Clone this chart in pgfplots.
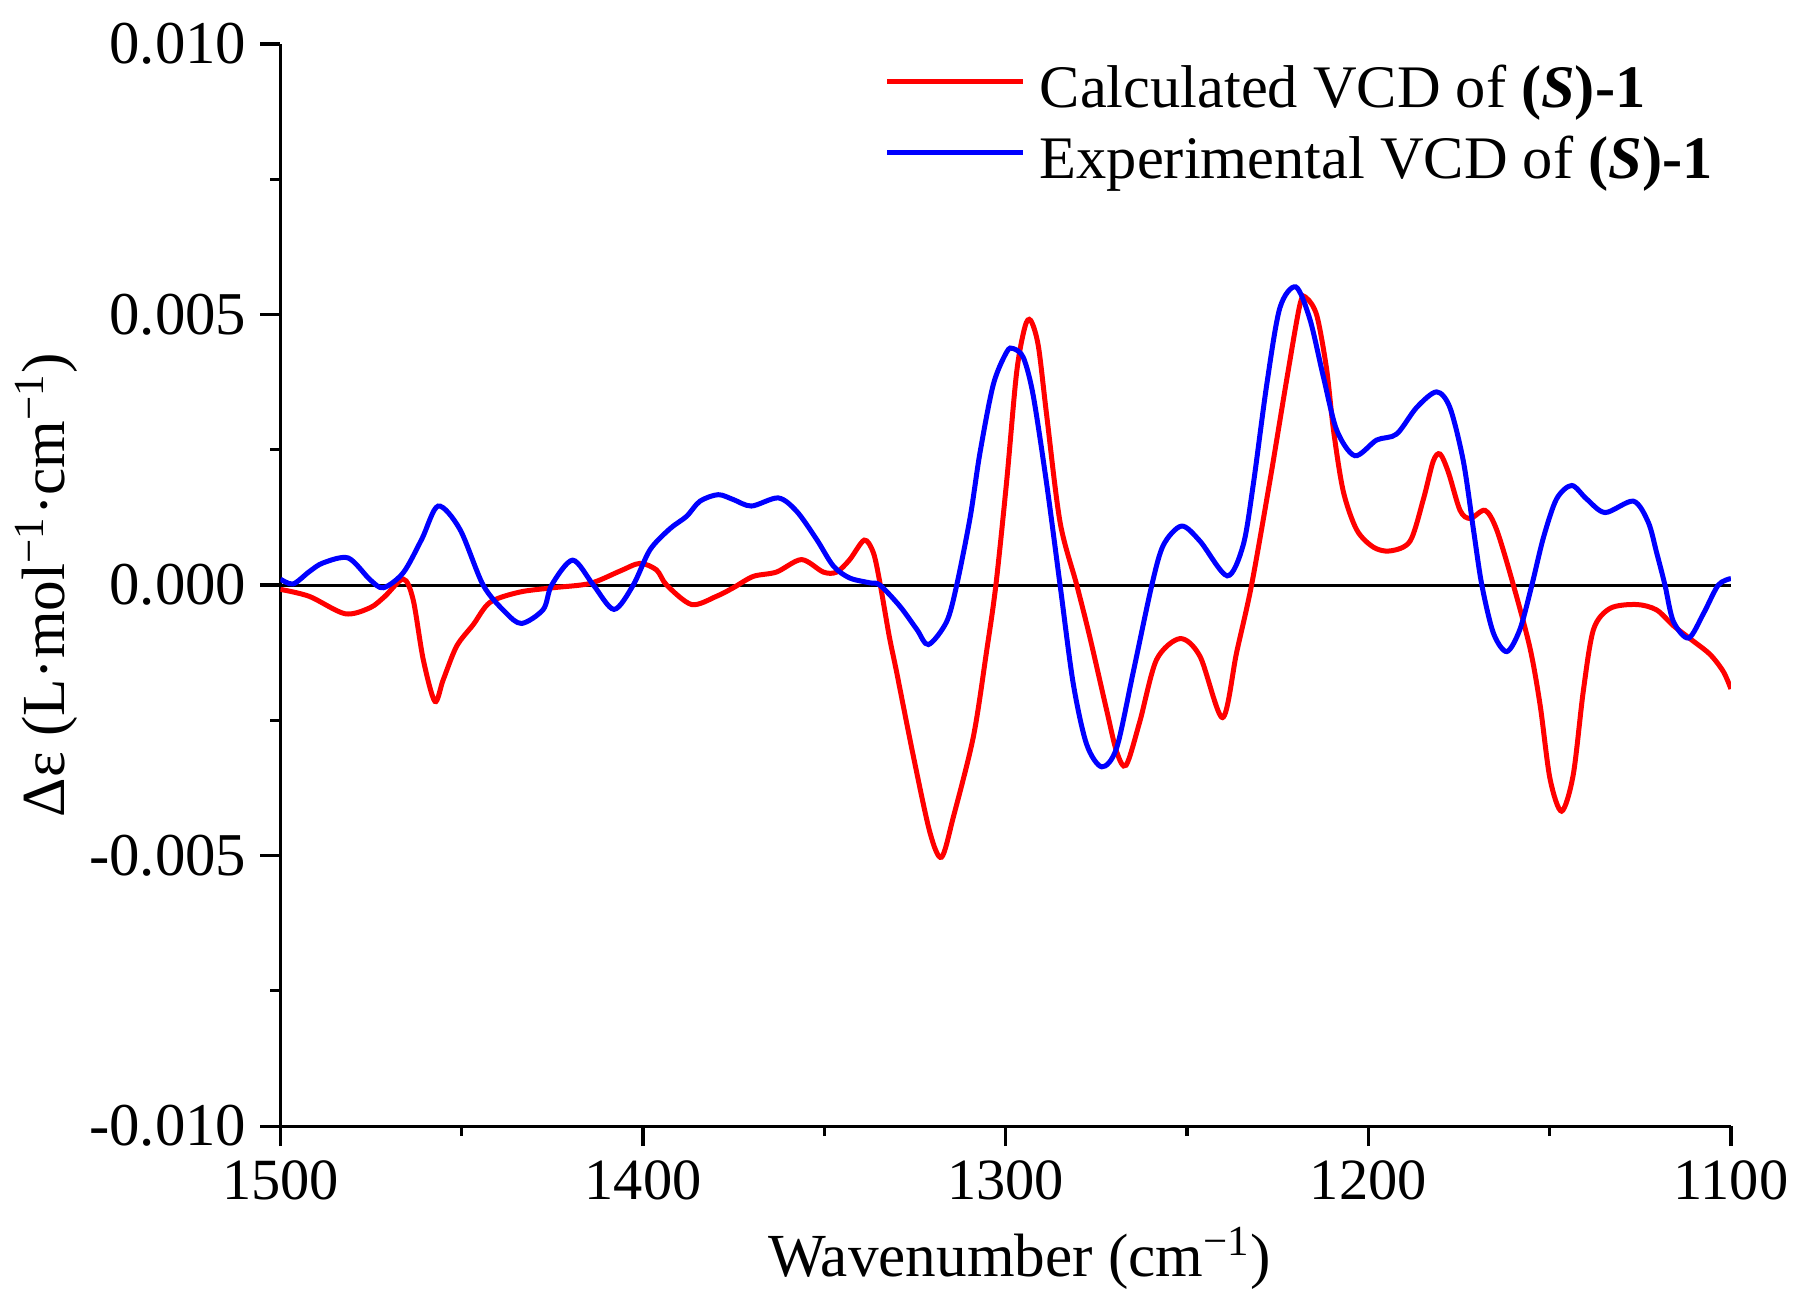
\documentclass[border=0pt]{standalone}
\usepackage{fontspec}
\setmainfont{Liberation Serif}
\usepackage{pgfplots}
\pgfplotsset{compat=1.18}
\definecolor{vred}{RGB}{255,0,0}
\definecolor{vblue}{RGB}{0,0,255}
\begin{document}
\begin{tikzpicture}
\begin{axis}[
  scale only axis, width=362.6pt, height=270.5pt,
  xmin=1100, xmax=1500, ymin=-0.010, ymax=0.010,
  x dir=reverse,
  axis x line*=bottom, axis y line*=left,
  axis line style={line width=0.8pt, black, -},
  xtick={1100,1200,1300,1400,1500},
  minor xtick={1150,1250,1350,1450},
  ytick={-0.01,-0.005,0,0.005,0.01},
  minor ytick={-0.0075,-0.0025,0.0025,0.0075},
  tick align=outside,
  major tick length=5pt, minor tick length=2.5pt,
  every tick/.style={black, line width=0.8pt},
  scaled y ticks=false, scaled x ticks=false,
  /pgf/number format/assume math mode=true,
  /pgf/number format/1000 sep={},
  xticklabel style={font=\fontsize{14.6}{16}\selectfont},
  yticklabel style={font=\fontsize{15.2}{17}\selectfont, /pgf/number format/.cd, fixed, fixed zerofill, precision=3},
  label style={font=\fontsize{15.3}{18}\selectfont},
  xlabel={Wavenumber (cm\textsuperscript{−1})},
  ylabel={Δε (L·mol\textsuperscript{−1}·cm\textsuperscript{−1})},
  xlabel style={at={(axis description cs:0.5,0)}, anchor=base, yshift=-37.5pt, xshift=3.5pt},
  ylabel style={at={(axis description cs:0,0.5)}, anchor=base, yshift=54pt},
  legend cell align=left,
  legend image code/.code={\draw[#1] (0pt,0.3em) -- (34pt,0.3em);},
  legend style={at={(0.4216,1)}, anchor=north west, yshift=-4.75pt, xshift=-2pt,
    draw=none, fill=none, inner sep=0pt, row sep=2.6pt, column sep=3.5pt,
    font=\fontsize{15.1}{18}\selectfont,
    nodes={inner sep=0pt, text height=11pt, text depth=4pt}},
]
\addplot[black, line width=0.75pt, forget plot] coordinates {(1100,0) (1500,0)};
\addplot[vred, line width=1.25pt, smooth, tension=0.5] coordinates {
(1500,-0.08e-3) (1492,-0.21e-3) (1482.2,-0.53e-3) (1475.3,-0.42e-3) (1471.2,-0.21e-3)
(1466.1,0.11e-3) (1463.4,-0.27e-3) (1460.6,-1.38e-3) (1457.4,-2.15e-3) (1455.1,-1.75e-3)
(1451.4,-1.13e-3) (1446.8,-0.73e-3) (1442.2,-0.32e-3) (1434,-0.13e-3) (1424.8,-0.05e-3)
(1414.6,0.03e-3) (1406.3,0.26e-3) (1400.9,0.40e-3) (1396.3,0.28e-3) (1393.5,0.0)
(1386.6,-0.36e-3) (1379.8,-0.21e-3) (1375.1,-0.05e-3) (1369.6,0.16e-3) (1363.2,0.24e-3)
(1356.3,0.47e-3) (1350.3,0.24e-3) (1346.6,0.24e-3) (1343.0,0.47e-3) (1339.0,0.83e-3)
(1336.5,0.60e-3) (1334.7,0.05e-3) (1332.1,-0.95e-3) (1330.1,-1.60e-3) (1325.5,-3.15e-3)
(1320.9,-4.57e-3) (1317.7,-5.03e-3) (1314.4,-4.28e-3) (1308.9,-2.80e-3) (1305.3,-1.24e-3)
(1302.7,0.0) (1299.7,1.94e-3) (1297.0,3.92e-3) (1294.7,4.77e-3) (1293.1,4.89e-3)
(1291.0,4.42e-3) (1288.7,3.14e-3) (1285.0,1.16e-3) (1280.4,0.0) (1276.8,-0.96e-3)
(1272.2,-2.30e-3) (1269.4,-3.08e-3) (1266.8,-3.33e-3) (1263.0,-2.52e-3) (1258.4,-1.38e-3)
(1251.9,-0.99e-3) (1246.4,-1.32e-3) (1240.2,-2.45e-3) (1236.3,-1.24e-3) (1232.2,0.0)
(1227.1,1.94e-3) (1222.5,3.8e-3) (1218.8,5.2e-3) (1217.0,5.30e-3) (1214.2,4.98e-3)
(1211.5,3.99e-3) (1209.6,2.86e-3) (1206.9,1.73e-3) (1203.2,1.02e-3) (1198.6,0.70e-3)
(1194.0,0.63e-3) (1188.5,0.81e-3) (1184.8,1.59e-3) (1182.1,2.29e-3) (1180.2,2.42e-3)
(1177.9,2.08e-3) (1174.7,1.38e-3) (1171.9,1.23e-3) (1167.8,1.38e-3) (1164.6,1.02e-3)
(1160.0,0.0) (1155.4,-1.17e-3) (1152.6,-2.23e-3) (1149.9,-3.58e-3) (1146.7,-4.18e-3)
(1143.5,-3.51e-3) (1140.7,-1.95e-3) (1137.9,-0.82e-3) (1133.3,-0.43e-3) (1126.0,-0.36e-3)
(1120.5,-0.46e-3) (1115.9,-0.75e-3) (1111.3,-0.99e-3) (1105.8,-1.28e-3) (1102.1,-1.60e-3)
(1100,-1.92e-3)};
\addlegendentry{Calculated VCD of \textbf{(\textit{S})-1}}
\addplot[vblue, line width=1.25pt, smooth, tension=0.5] coordinates {
(1500,0.11e-3) (1496.5,0.02e-3) (1492,0.25e-3) (1488.2,0.41e-3) (1481.3,0.50e-3)
(1475.3,0.10e-3) (1471.6,-0.05e-3) (1466.1,0.23e-3) (1461,0.85e-3) (1456.5,1.46e-3)
(1450.5,1.03e-3) (1444.1,0.0) (1438,-0.50e-3) (1433.5,-0.71e-3) (1427.5,-0.45e-3)
(1425.2,0.0) (1419.4,0.46e-3) (1413.7,0.0) (1408.0,-0.45e-3) (1402.7,0.0)
(1398.1,0.65e-3) (1392.6,1.04e-3) (1388,1.27e-3) (1384.3,1.55e-3) (1379.3,1.67e-3)
(1375.1,1.58e-3) (1370.1,1.46e-3) (1362.7,1.61e-3) (1357.6,1.36e-3) (1352.1,0.84e-3)
(1347.5,0.35e-3) (1343.0,0.13e-3) (1337.4,0.04e-3) (1334.7,0.0) (1329.2,-0.39e-3)
(1324.5,-0.82e-3) (1321.3,-1.10e-3) (1316.3,-0.68e-3) (1313.5,0.0) (1309.8,1.25e-3)
(1307.1,2.44e-3) (1303.4,3.71e-3) (1299.7,4.31e-3) (1297.9,4.37e-3) (1295.1,4.20e-3)
(1292.4,3.50e-3) (1288.7,1.87e-3) (1285.0,0.0) (1281.4,-1.81e-3) (1277.7,-2.94e-3)
(1273.5,-3.36e-3) (1269.4,-3.01e-3) (1264.8,-1.60e-3) (1259.7,0.0) (1256.5,0.74e-3)
(1251.5,1.09e-3) (1246.4,0.81e-3) (1238.9,0.17e-3) (1234.5,0.74e-3) (1231.7,1.87e-3)
(1228.0,3.71e-3) (1224.4,5.12e-3) (1220.0,5.51e-3) (1216.1,4.91e-3) (1212.4,3.85e-3)
(1208.7,2.86e-3) (1203.7,2.39e-3) (1197.7,2.68e-3) (1192.2,2.79e-3) (1186.7,3.28e-3)
(1181.2,3.57e-3) (1177.5,3.28e-3) (1173.8,2.29e-3) (1171.0,1.02e-3) (1168.7,0.0)
(1165.5,-0.89e-3) (1161.8,-1.23e-3) (1158.2,-0.82e-3) (1154.9,0.0) (1151.7,0.88e-3)
(1148.1,1.59e-3) (1143.9,1.84e-3) (1139.8,1.59e-3) (1134.7,1.34e-3) (1126.9,1.55e-3)
(1122.8,1.16e-3) (1120.5,0.60e-3) (1118.2,0.0) (1115.9,-0.67e-3) (1111.7,-0.98e-3)
(1107.6,-0.53e-3) (1103.5,0.0) (1100,0.12e-3)};
\addlegendentry{Experimental VCD of \textbf{(\textit{S})-1}}
\end{axis}
\pgfresetboundingbox
\useasboundingbox ([shift={(-70.1pt,-46.25pt)}]current axis.south west) rectangle ([shift={(20.25pt,11pt)}]current axis.north east);
\end{tikzpicture}
\end{document}
